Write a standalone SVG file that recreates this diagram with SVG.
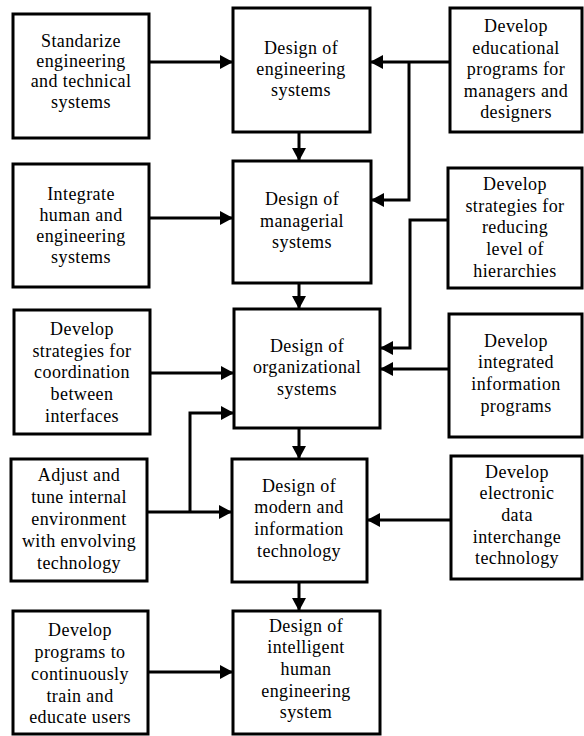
<svg xmlns="http://www.w3.org/2000/svg" width="584" height="736" viewBox="0 0 584 736">
  <style>
    .box { fill: #fff; stroke: #000; stroke-width: 3; }
    text { font-family: 'Liberation Serif', 'Times New Roman', Tinos, 'DejaVu Serif', 'Noto Serif', Georgia, serif; font-size: 18px; letter-spacing: 0.4px; fill: #000; text-anchor: middle; }
    .wire { fill: none; stroke: #000; stroke-width: 3; }
    .arr { marker-end: url(#head); }
  </style>
  <defs>
    <marker id="head" viewBox="0 0 13 14" refX="12" refY="7" markerWidth="13" markerHeight="14" markerUnits="userSpaceOnUse" orient="auto">
      <path d="M0,0 L13,7 L0,14 z" fill="#000"/>
    </marker>
  </defs>

  <rect width="584" height="736" fill="#fff"/>

  <!-- left column: supporting actions -->
  <g id="standardize">
    <rect class="box" x="13" y="14" width="136" height="124"/>
    <text><tspan x="81" y="47">Standarize</tspan><tspan x="81" y="67">engineering</tspan><tspan x="81" y="87">and technical</tspan><tspan x="81" y="108">systems</tspan></text>
  </g>
  <g id="integrate">
    <rect class="box" x="13" y="164" width="136" height="123"/>
    <text><tspan x="81" y="200">Integrate</tspan><tspan x="81" y="221">human and</tspan><tspan x="81" y="242">engineering</tspan><tspan x="81" y="263">systems</tspan></text>
  </g>
  <g id="coordination">
    <rect class="box" x="14" y="310" width="136" height="124"/>
    <text><tspan x="82" y="335">Develop</tspan><tspan x="82" y="357">strategies for</tspan><tspan x="82" y="378">coordination</tspan><tspan x="82" y="400">between</tspan><tspan x="82" y="422">interfaces</tspan></text>
  </g>
  <g id="adjust">
    <rect class="box" x="11" y="459" width="136" height="122"/>
    <text><tspan x="79" y="481">Adjust and</tspan><tspan x="79" y="503">tune internal</tspan><tspan x="79" y="525">environment</tspan><tspan x="79" y="547">with envolving</tspan><tspan x="79" y="569">technology</tspan></text>
  </g>
  <g id="train">
    <rect class="box" x="13" y="611" width="135" height="123"/>
    <text><tspan x="80" y="636">Develop</tspan><tspan x="80" y="658">programs to</tspan><tspan x="80" y="680">continuously</tspan><tspan x="80" y="702">train and</tspan><tspan x="80" y="723">educate users</tspan></text>
  </g>

  <!-- centre column: design stages -->
  <g id="engineering">
    <rect class="box" x="233" y="8" width="137" height="124"/>
    <text><tspan x="301" y="54">Design of</tspan><tspan x="301" y="75">engineering</tspan><tspan x="301" y="96">systems</tspan></text>
  </g>
  <g id="managerial">
    <rect class="box" x="233" y="161" width="138" height="122"/>
    <text><tspan x="302" y="205">Design of</tspan><tspan x="302" y="227">managerial</tspan><tspan x="302" y="248">systems</tspan></text>
  </g>
  <g id="organizational">
    <rect class="box" x="234" y="309" width="146" height="119"/>
    <text><tspan x="307" y="352">Design of</tspan><tspan x="307" y="373">organizational</tspan><tspan x="307" y="395">systems</tspan></text>
  </g>
  <g id="modern">
    <rect class="box" x="232" y="459" width="135" height="123"/>
    <text><tspan x="299" y="492">Design of</tspan><tspan x="299" y="513">modern and</tspan><tspan x="299" y="535">information</tspan><tspan x="299" y="557">technology</tspan></text>
  </g>
  <g id="intelligent">
    <rect class="box" x="233" y="611" width="147" height="123"/>
    <text><tspan x="306" y="632">Design of</tspan><tspan x="306" y="653">intelligent</tspan><tspan x="306" y="675">human</tspan><tspan x="306" y="697">engineering</tspan><tspan x="306" y="718">system</tspan></text>
  </g>

  <!-- right column: development programmes -->
  <g id="educational">
    <rect class="box" x="450" y="8" width="132" height="124"/>
    <text><tspan x="516" y="32">Develop</tspan><tspan x="516" y="54">educational</tspan><tspan x="516" y="75">programs for</tspan><tspan x="516" y="97">managers and</tspan><tspan x="516" y="118">designers</tspan></text>
  </g>
  <g id="hierarchies">
    <rect class="box" x="448" y="168" width="134" height="120"/>
    <text><tspan x="515" y="190">Develop</tspan><tspan x="515" y="212">strategies for</tspan><tspan x="515" y="233">reducing</tspan><tspan x="515" y="255">level of</tspan><tspan x="515" y="277">hierarchies</tspan></text>
  </g>
  <g id="information">
    <rect class="box" x="449" y="314" width="133" height="123"/>
    <text><tspan x="516" y="347">Develop</tspan><tspan x="516" y="368">integrated</tspan><tspan x="516" y="390">information</tspan><tspan x="516" y="412">programs</tspan></text>
  </g>
  <g id="edi">
    <rect class="box" x="451" y="456" width="131" height="123"/>
    <text><tspan x="517" y="478">Develop</tspan><tspan x="517" y="499">electronic</tspan><tspan x="517" y="521">data</tspan><tspan x="517" y="543">interchange</tspan><tspan x="517" y="564">technology</tspan></text>
  </g>

  <!-- connectors -->
  <g id="connectors">
    <path class="wire arr" d="M149,62 H232"/>
    <path class="wire arr" d="M149,218 H232"/>
    <path class="wire arr" d="M150,373 H233"/>
    <path class="wire arr" d="M147,512 H231"/>
    <path class="wire arr" d="M190,512 V413 H233"/>
    <path class="wire arr" d="M148,672 H232"/>
    <path class="wire arr" d="M450,62 H371"/>
    <path class="wire arr" d="M409,62 V200 H372"/>
    <path class="wire arr" d="M448,220 H410 V348 H381"/>
    <path class="wire arr" d="M449,369 H381"/>
    <path class="wire arr" d="M451,520 H368"/>
    <path class="wire arr" d="M299,133 V160"/>
    <path class="wire arr" d="M299,284 V308"/>
    <path class="wire arr" d="M299,429 V458"/>
    <path class="wire arr" d="M299,583 V610"/>
  </g>
</svg>
